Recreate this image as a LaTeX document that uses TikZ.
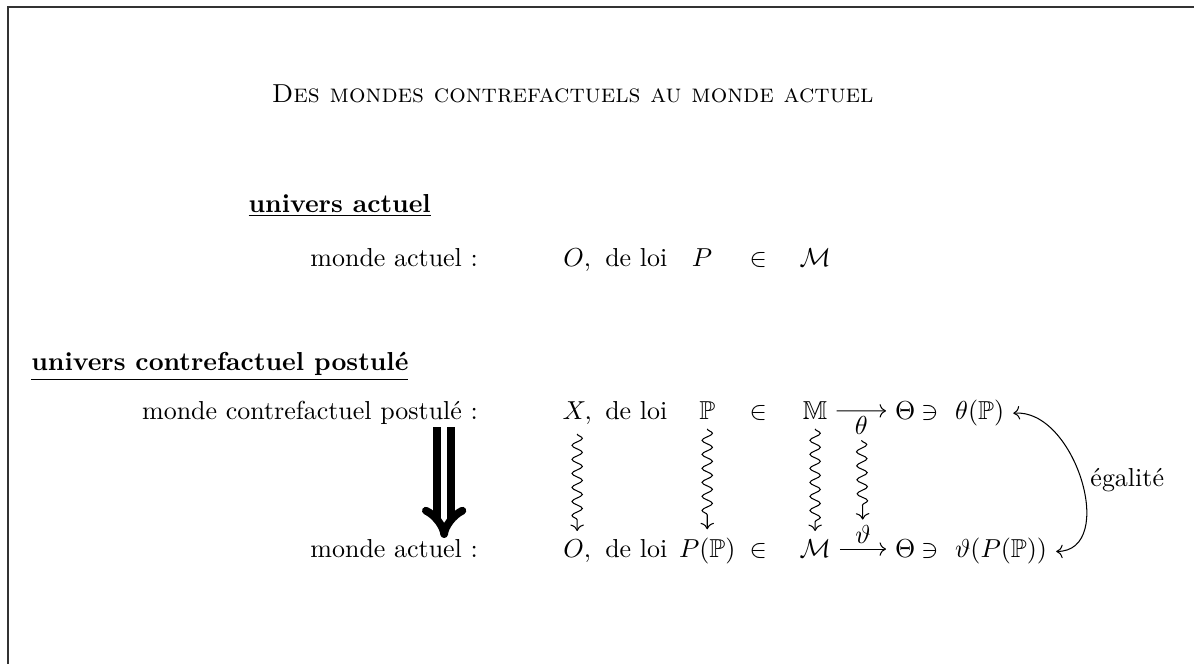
\documentclass[tikz,border=0pt]{standalone}
\usepackage{amsmath, amssymb}
\usepackage{tikz}
\usetikzlibrary{arrows.meta, positioning, decorations.pathmorphing}

\begin{document}
\begin{tikzpicture}[
    cell/.style={anchor=base},
    lbl/.style={anchor=base east},
    head/.style={anchor=base west, font=\bfseries},
    squig/.style={->, decorate, decoration={snake, amplitude=2pt, segment length=5.4pt, post length=3pt}},
    big/.style={double, double distance=2.3pt, line width=3pt, -{Implies}}
]
    \useasboundingbox (0,0) rectangle (16.157,-8.985);
    \draw[line width=0.6pt, black!80] (0.108,-8.985) -- (0.108,-0.095) -- (16.157,-0.095);

    % titre
    \node[anchor=base] (titre) at (7.75,-1.39) {\textsc{Des mondes contrefactuels au monde actuel}};

    % univers actuel
    \node[head] (ua) at (3.24,-2.87) {\underline{univers actuel}};
    \node[lbl] (ma1) at (6.59,-3.60) {monde actuel :};
    \node[cell] (O1) at (7.81,-3.60) {$O,$};
    \node[cell] (loi1) at (8.61,-3.60) {de loi};
    \node[cell] (P1) at (9.50,-3.60) {$P$};
    \node[cell] (in1) at (10.26,-3.60) {$\in$};
    \node[cell] (M1) at (11.03,-3.60) {$\mathcal{M}$};

    % univers contrefactuel
    \node[head] (uc) at (0.30,-5.02) {\underline{univers contrefactuel postulé}};
    \node[lbl] (mc2) at (6.59,-5.68) {monde contrefactuel postulé :};
    \node[cell] (X2) at (7.81,-5.68) {$X,$};
    \node[cell] (loi2) at (8.61,-5.68) {de loi};
    \node[cell] (P2) at (9.57,-5.68) {$\mathbb{P}$};
    \node[cell] (in2) at (10.26,-5.68) {$\in$};
    \node[cell] (M2) at (11.03,-5.68) {$\mathbb{M}$};
    \node[cell] (Th2) at (12.25,-5.68) {$\Theta$};
    \node[cell] (ni2) at (12.58,-5.68) {$\ni$};
    \node[anchor=base west] (v2) at (12.80,-5.68) {$\theta(\mathbb{P})$};

    \node[lbl] (ma3) at (6.59,-7.55) {monde actuel :};
    \node[cell] (O3) at (7.81,-7.55) {$O,$};
    \node[cell] (loi3) at (8.61,-7.55) {de loi};
    \node[cell] (P3) at (9.57,-7.55) {$P(\mathbb{P})$};
    \node[cell] (in3) at (10.26,-7.55) {$\in$};
    \node[cell] (M3) at (11.03,-7.55) {$\mathcal{M}$};
    \node[cell] (Th3) at (12.25,-7.55) {$\Theta$};
    \node[cell] (ni3) at (12.58,-7.55) {$\ni$};
    \node[anchor=base west] (v3) at (12.80,-7.55) {$\vartheta(P(\mathbb{P}))$};

    % fleches
    \draw[->] (M2) -- node[below, inner sep=2pt] (lth) {$\theta$} (Th2);
    \draw[->] (M3) -- node[above, inner sep=2pt] (lvth) {$\vartheta$} (Th3);
    \draw[squig] (X2) -- (O3);
    \draw[squig] (P2) -- (P3);
    \draw[squig] (M2) -- (M3);
    \draw[squig] (lth) -- (lvth);
    \draw[<->] (v2.east) to[out=5, in=0, looseness=1.1] node[right] {égalité} (v3.east);

    \coordinate (dtop) at (6.01,-5.78);
    \coordinate (dbot) at (6.01,-7.28);
    \draw[big] (dtop) -- (dbot);
\end{tikzpicture}
\end{document}
